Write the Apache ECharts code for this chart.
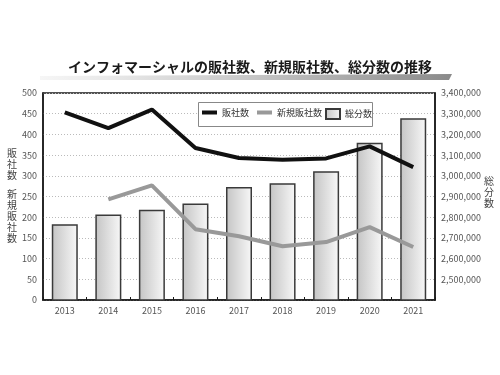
<!DOCTYPE html>
<html><head><meta charset="utf-8">
<script src="https://cdn.jsdelivr.net/npm/echarts@6/dist/echarts.min.js"></script>
<style>html,body{margin:0;padding:0;background:#fff}#c{width:500px;height:375px}</style>
</head><body><div id="c"></div>
<script>
const years = ['2013','2014','2015','2016','2017','2018','2019','2020','2021'];
const dealers = [453, 415, 460, 367, 343, 339, 342, 371, 321];
const newDealers = [null, 243, 277, 171, 154, 130, 140, 176, 128];
const totalMinutes = [2766000, 2813000, 2836000, 2866000, 2946000, 2964000, 3022000, 3160000, 3278000];
const titleText = 'インフォマーシャルの販社数、新規販社数、総分数の推移';
const font = '"Noto Sans CJK JP", "Noto Sans", sans-serif';

const chart = echarts.init(document.getElementById('c'), null, {renderer:'canvas'});
chart.setOption({
  animation:false,
  backgroundColor:'#fff',
  textStyle:{fontFamily:font},
  grid:{left:43, right:65, top:93, bottom:75, show:true, borderColor:'#1a1a1a', borderWidth:1.5, backgroundColor:'transparent'},
  graphic:[
    {type:'polygon', z:-1, shape:{points:[[40,76],[452,74],[449,80],[40,80]]},
     style:{fill:new echarts.graphic.LinearGradient(0,0,1,0,[{offset:0,color:'rgba(210,210,210,0.2)'},{offset:0.5,color:'#c8c8c8'},{offset:1,color:'#8a8a8a'}])}},
    {type:'text', left:'center', top:60, style:{text:titleText, font:'bold 14px '+font, fill:'#1a1a1a'}},
    {type:'text', left:7, top:148, style:{text:'販\n社\n数', font:'10px '+font, fill:'#444', lineHeight:11}},
    {type:'text', left:7, top:189, style:{text:'新\n規\n販\n社\n数', font:'10px '+font, fill:'#444', lineHeight:11}},
    {type:'text', left:484, top:176, style:{text:'総\n分\n数', font:'10px '+font, fill:'#444', lineHeight:11}},
    {type:'rect', z:5, shape:{x:198.5, y:102.5, width:174, height:24}, style:{fill:'#fff', stroke:'#888', lineWidth:1}}
  ],
  legend:[{
    show:true, left:202, top:108, z:10, padding:0,
    icon:'rect', itemWidth:15, itemHeight:4, itemGap:8,
    textStyle:{fontSize:9, color:'#333', fontFamily:font},
    data:['販社数','新規販社数']
  },{
    show:true, left:325, top:108, z:10, padding:0,
    icon:'rect', itemWidth:14, itemHeight:10,
    textStyle:{fontSize:9, color:'#333', fontFamily:font},
    data:['総分数']
  }],
  xAxis:{
    type:'category', data:years,
    axisLine:{lineStyle:{color:'#1a1a1a', width:1.5}},
    axisTick:{show:true, inside:true, length:3, lineStyle:{color:'#1a1a1a'}},
    axisLabel:{color:'#555', fontSize:9, margin:6}
  },
  yAxis:[
    {type:'value', min:0, max:500, interval:50, position:'left',
     axisLine:{show:true, lineStyle:{color:'#1a1a1a', width:1.5}},
     axisTick:{show:false},
     axisLabel:{color:'#555', fontSize:9, margin:6},
     splitLine:{show:true, lineStyle:{color:'#bbb', type:[1,2], width:1}}},
    {type:'value', min:2400000, max:3400000, interval:100000, position:'right',
     axisLine:{show:true, lineStyle:{color:'#1a1a1a', width:1.5}},
     axisTick:{show:false},
     axisLabel:{color:'#555', fontSize:9, margin:6, showMinLabel:false,
       formatter:v=>v===2400000?'':v.toLocaleString('en-US')},
     splitLine:{show:false}}
  ],
  series:[
    {name:'総分数', type:'bar', yAxisIndex:1, data:totalMinutes, barWidth:26, z:1,
     itemStyle:{color:new echarts.graphic.LinearGradient(0,0,1,0,[{offset:0,color:'#c4c4c4'},{offset:1,color:'#f8f8f8'}]),
       borderColor:'#3a3a3a', borderWidth:1.5}},
    {name:'販社数', type:'line', yAxisIndex:0, data:dealers, symbol:'none', z:3,
     lineStyle:{color:'#111', width:4}, itemStyle:{color:'#111'}},
    {name:'新規販社数', type:'line', yAxisIndex:0, data:newDealers, symbol:'none', z:2,
     lineStyle:{color:'#999', width:4}, itemStyle:{color:'#999'}}
  ]
});
</script></body></html>
